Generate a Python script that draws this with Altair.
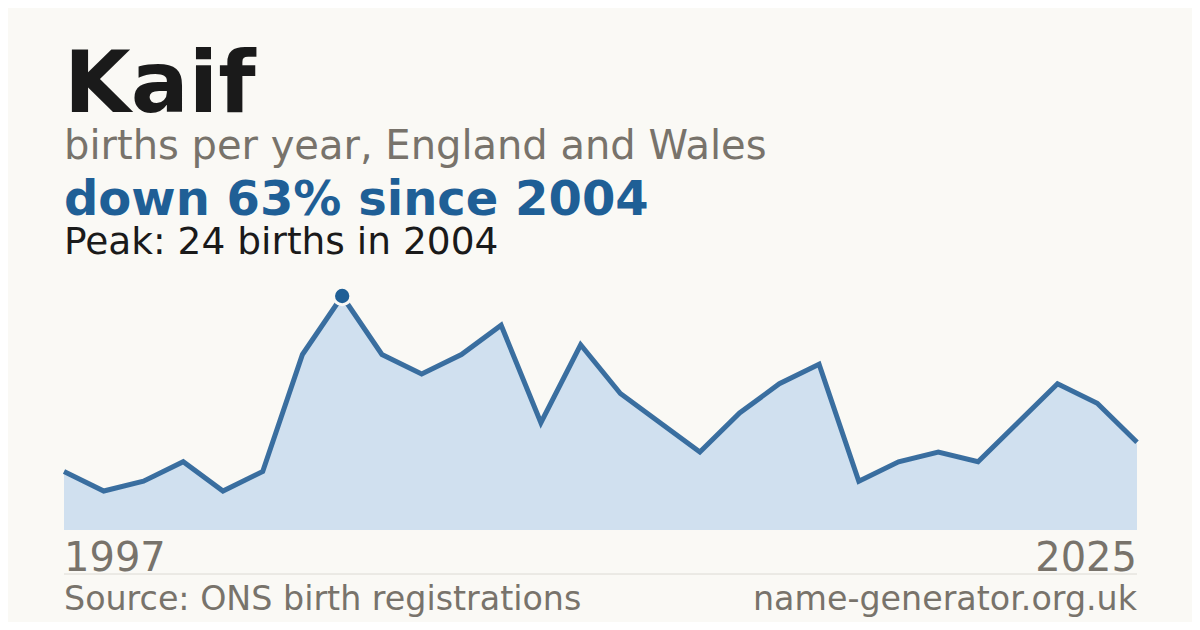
import altair as alt
import pandas as pd

# --- data ---
years = [1997, 1998, 1999, 2000, 2001, 2002, 2003, 2004, 2005, 2006, 2007, 2008,
         2009, 2010, 2011, 2012, 2013, 2014, 2015, 2016, 2017, 2018, 2019, 2021,
         2022, 2023, 2024, 2025]
births = [6, 4, 5, 7, 4, 6, 18, 24, 18, 16, 18, 21,
          11, 19, 14, 11, 8, 12, 15, 17, 5, 7, 8, 7,
          11, 15, 13, 9]

title_text = "Kaif"
subtitle_text = "births per year, England and Wales"
headline_text = "down 63% since 2004"
peak_text = "Peak: 24 births in 2004"
source_text = "Source: ONS birth registrations"
site_text = "name-generator.org.uk"

df = pd.DataFrame({"i": list(range(len(years))), "year": years, "births": births})
peak_idx = births.index(max(births))
peak_df = df.iloc[[peak_idx]]

W, H = 1073, 250
FONT = "DejaVu Sans"
GRAY = "#78736b"
BLUE = "#1f5f96"
BG = "#faf9f5"

x = alt.X("i:Q", scale=alt.Scale(domain=[0, len(years) - 1], nice=False, zero=False), axis=None)
y = alt.Y("births:Q", scale=alt.Scale(domain=[0, 25.64], nice=False), axis=None)

base = alt.Chart(df)

area = base.mark_area(color="#d0e0ef", opacity=1).encode(x=x, y=y)
line = base.mark_line(color="#2a6398", strokeWidth=5, opacity=0.92, strokeJoin="miter").encode(x=x, y=y)
dot = alt.Chart(peak_df).mark_point(
    filled=True, size=300, color=BLUE, stroke=BG, strokeWidth=3, opacity=1
).encode(x=x, y=y)


def label(text, xpos, ypos, size, color, weight="normal", align="left"):
    return alt.Chart(pd.DataFrame({"t": [text]})).mark_text(
        font=FONT, fontSize=size, color=color, fontWeight=weight,
        align=align, baseline="alphabetic"
    ).encode(text="t:N", x=alt.value(xpos), y=alt.value(ypos))


t_title = label(title_text, 0, -168.5, 86, "#1a1a1a", "bold")
t_sub = label(subtitle_text, 0, -121, 40, GRAY)
t_head = label(headline_text, 0, -65, 48, BLUE, "bold")
t_peak = label(peak_text, 0, -26, 37.5, "#1a1a1a")
t_y0 = label(str(years[0]), 0, 291, 40, GRAY)
t_y1 = label(str(years[-1]), W, 291, 40, GRAY, align="right")
t_src = label(source_text, 0, 330, 33.3, GRAY)
t_site = label(site_text, W, 330, 33.3, GRAY, align="right")

sep = alt.Chart(pd.DataFrame({"a": [0]})).mark_rule(color="#dcdad4", strokeWidth=1).encode(
    x=alt.value(0), x2=alt.value(W), y=alt.value(294)
)

chart = alt.layer(
    area, line, dot, sep, t_title, t_sub, t_head, t_peak, t_y0, t_y1, t_src, t_site
).properties(
    width=W, height=H,
    padding={"left": 56, "top": 272, "right": 55, "bottom": 92},
    autosize=alt.AutoSizeParams(type="none"),
    background=BG,
).configure_view(stroke=None)

chart.save("out.html", embed_options={"renderer": "svg", "actions": False})
